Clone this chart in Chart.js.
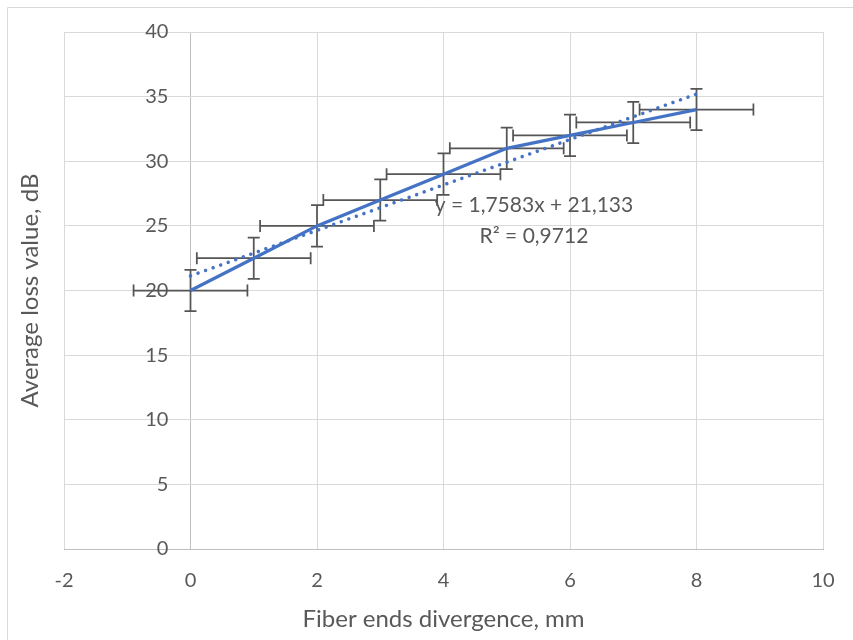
<!DOCTYPE html>
<html>
<head>
<meta charset="utf-8">
<script src="https://cdn.jsdelivr.net/npm/chart.js@4.4.1/dist/chart.umd.min.js"></script>
<style>
  html, body { margin: 0; padding: 0; background: #fff; }
  #contenedor { width: 853px; height: 640px; position: relative; }
</style>
</head>
<body>
<div id="contenedor"><canvas id="grafico" width="853" height="640"></canvas></div>
<script>
// datos
const divergencia = [0, 1, 2, 3, 4, 5, 6, 7, 8];          // mm
const perdida = [20, 22.5, 25, 27, 29, 31, 32, 33, 34];    // dB
const errorX = [0.9, 0.9, 0.9, 0.9, 0.9, 0.9, 0.9, 0.9, 0.9];
const errorY = [1.6, 1.6, 1.6, 1.6, 1.6, 1.6, 1.6, 1.6, 1.6];
const ticksX = [-2, 0, 2, 4, 6, 8, 10];
const ticksY = [0, 5, 10, 15, 20, 25, 30, 35, 40];
// linea de tendencia (texto del grafico)
const pendiente = 1.7583;
const intercepto = 21.133;
const textoTendencia = ['y = 1,7583x + 21,133', 'R² = 0,9712'];

const fuente = 'Lato, "Noto Sans", sans-serif';
const gris = '#595959';
const azul = '#4472C4';

const puntos = divergencia.map((d, i) => ({ x: d, y: perdida[i] }));
const xIni = divergencia[0], xFin = divergencia[divergencia.length - 1];
const tendencia = [
  { x: xIni, y: pendiente * xIni + intercepto },
  { x: xFin, y: pendiente * xFin + intercepto }
];

// barras de error + marco + etiqueta de tendencia
const extras = {
  id: 'extras',
  beforeDraw(chart) {
    const ctx = chart.ctx;
    ctx.save();
    ctx.strokeStyle = '#d9d9d9';
    ctx.lineWidth = 1;
    ctx.beginPath();
    ctx.moveTo(7.5, 640); ctx.lineTo(7.5, 7.5); ctx.lineTo(853, 7.5);
    ctx.stroke();
    ctx.restore();
  },
  beforeDatasetsDraw(chart) {
    const { ctx, scales: { x, y } } = chart;
    ctx.save();
    ctx.strokeStyle = '#555555';
    ctx.lineWidth = 1.75;
    const cap = 6;
    divergencia.forEach((d, i) => {
      const px = x.getPixelForValue(d), py = y.getPixelForValue(perdida[i]);
      const x1 = x.getPixelForValue(d - errorX[i]), x2 = x.getPixelForValue(d + errorX[i]);
      const y1 = y.getPixelForValue(perdida[i] - errorY[i]), y2 = y.getPixelForValue(perdida[i] + errorY[i]);
      ctx.beginPath();
      ctx.moveTo(x1, py); ctx.lineTo(x2, py);
      ctx.moveTo(x1, py - cap); ctx.lineTo(x1, py + cap);
      ctx.moveTo(x2, py - cap); ctx.lineTo(x2, py + cap);
      ctx.moveTo(px, y1); ctx.lineTo(px, y2);
      ctx.moveTo(px - cap, y1); ctx.lineTo(px + cap, y1);
      ctx.moveTo(px - cap, y2); ctx.lineTo(px + cap, y2);
      ctx.stroke();
    });
    ctx.restore();
  },
  afterDatasetsDraw(chart) {
    const { ctx, scales: { x, y } } = chart;
    ctx.save();
    ctx.fillStyle = gris;
    ctx.font = '21px ' + fuente;
    ctx.textAlign = 'center';
    ctx.textBaseline = 'middle';
    ctx.fillText(textoTendencia[0], x.getPixelForValue(5.43), y.getPixelForValue(26.6));
    ctx.fillText(textoTendencia[1], x.getPixelForValue(5.43), y.getPixelForValue(24.2));
    ctx.restore();
  }
};

new Chart(document.getElementById('grafico'), {
  type: 'scatter',
  data: {
    datasets: [
      {
        label: 'Pérdida promedio',
        data: puntos,
        showLine: true,
        borderColor: azul,
        borderWidth: 3.25,
        pointRadius: 0,
        tension: 0
      },
      {
        label: 'Tendencia lineal',
        data: tendencia,
        showLine: true,
        borderColor: azul,
        borderWidth: 3.5,
        borderDash: [0.01, 8],
        borderCapStyle: 'round',
        pointRadius: 0
      }
    ]
  },
  options: {
    responsive: false,
    animation: false,
    layout: { padding: { top: 32, right: 30, left: 0, bottom: 0 } },
    plugins: { legend: { display: false }, tooltip: { enabled: false } },
    scales: {
      x: {
        type: 'linear',
        position: 'bottom',
        min: -2, max: 10,
        afterBuildTicks: (s) => { s.ticks = ticksX.map(v => ({ value: v })); },
        grid: {
          color: (c) => (c.tick && c.tick.value === 0 ? '#bfbfbf' : '#d9d9d9'),
          drawTicks: true, tickLength: 20, tickColor: 'rgba(0,0,0,0)'
        },
        border: { color: '#bfbfbf' },
        ticks: { color: gris, font: { family: fuente, size: 20 }, padding: 0 },
        title: {
          display: true, text: 'Fiber ends divergence, mm', color: gris,
          font: { family: fuente, size: 24 }, padding: { top: 11.6, bottom: 6.6 }
        }
      },
      y: {
        type: 'linear',
        position: { x: -0.35 },
        min: 0, max: 40,
        afterBuildTicks: (s) => { s.ticks = ticksY.map(v => ({ value: v })); },
        grid: { color: '#d9d9d9', drawTicks: false },
        border: { display: false },
        ticks: { color: gris, font: { family: fuente, size: 20 }, padding: 0 }
      },
      yTitulo: {
        type: 'linear',
        position: 'left',
        display: true,
        min: 0, max: 1,
        grid: { display: false, drawTicks: false },
        border: { display: false },
        ticks: { display: false },
        title: {
          display: true, text: 'Average loss value, dB', color: gris,
          font: { family: fuente, size: 24 }, padding: { top: 15.6, bottom: 19.6 }
        }
      }
    }
  },
  plugins: [extras]
});
</script>
</body>
</html>
